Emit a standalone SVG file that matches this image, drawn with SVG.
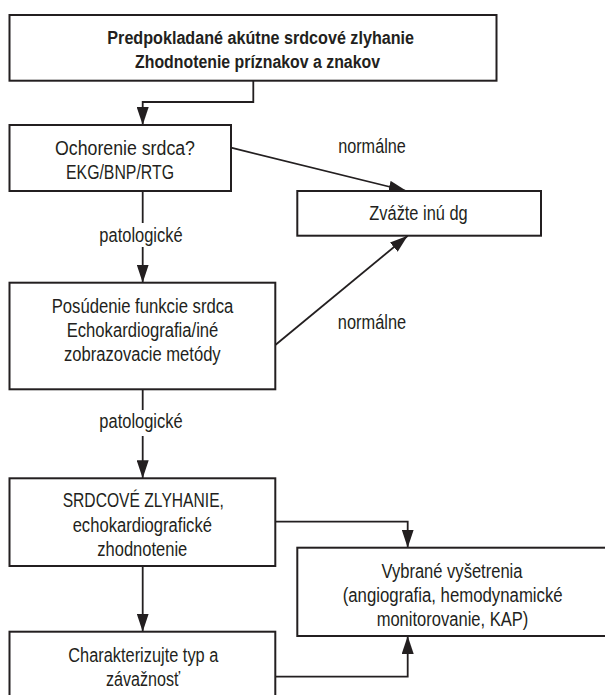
<svg xmlns="http://www.w3.org/2000/svg" width="605" height="695" viewBox="0 0 605 695">
<style>
.box{fill:#fff;stroke:#231f20;stroke-width:2}
.t{font-family:"Liberation Sans Narrow","Arial Narrow","Liberation Sans",Arial,sans-serif;font-size:20px;fill:#231f20;text-anchor:middle}
.b{font-weight:bold;font-size:18px}
.c{fill:none;stroke:#231f20;stroke-width:1.8}
</style>
<defs>
<marker id="ah" markerUnits="userSpaceOnUse" markerWidth="18" markerHeight="12" refX="18" refY="6" orient="auto">
<path d="M0,0 L18,6 L0,12 z" fill="#231f20"/>
</marker>
</defs>
<rect width="605" height="695" fill="#fff"/>
<g id="connectors">
<polyline class="c" points="253.3,80.7 253.3,102 142.7,102 142.7,125" marker-end="url(#ah)"/>
<line class="c" x1="231" y1="147.7" x2="406.7" y2="191" marker-end="url(#ah)"/>
<line class="c" x1="142.7" y1="191" x2="142.7" y2="223"/>
<line class="c" x1="142.7" y1="247" x2="142.7" y2="282.7" marker-end="url(#ah)"/>
<line class="c" x1="275.3" y1="345" x2="407.7" y2="235.7" marker-end="url(#ah)"/>
<line class="c" x1="142.7" y1="389.3" x2="142.7" y2="410"/>
<line class="c" x1="142.7" y1="436" x2="142.7" y2="478.3" marker-end="url(#ah)"/>
<polyline class="c" points="275.3,521.7 407.7,521.7 407.7,547.7" marker-end="url(#ah)"/>
<line class="c" x1="142.7" y1="566" x2="142.7" y2="631.7" marker-end="url(#ah)"/>
<polyline class="c" points="275.3,676.7 407.7,676.7 407.7,636" marker-end="url(#ah)"/>
<text class="t" x="372" y="153.3" textLength="67.7" lengthAdjust="spacingAndGlyphs">normálne</text>
<text class="t" x="141" y="241.7" textLength="83.3" lengthAdjust="spacingAndGlyphs">patologické</text>
<text class="t" x="372" y="329.3" textLength="68.3" lengthAdjust="spacingAndGlyphs">normálne</text>
<text class="t" x="141" y="428.3" textLength="83.3" lengthAdjust="spacingAndGlyphs">patologické</text>
</g>
<g id="n1">
<rect class="box" x="9.5" y="15" width="487" height="65.7"/>
<text class="t b" x="260.7" y="43.5" textLength="306.7" lengthAdjust="spacingAndGlyphs">Predpokladané akútne srdcové zlyhanie</text>
<text class="t b" x="257.5" y="67.7" textLength="245" lengthAdjust="spacingAndGlyphs">Zhodnotenie príznakov a znakov</text>
</g>
<g id="n2">
<rect class="box" x="9.5" y="125" width="221.5" height="66"/>
<text class="t" x="125" y="155" textLength="140" lengthAdjust="spacingAndGlyphs">Ochorenie srdca?</text>
<text class="t" x="120" y="179.3" textLength="108" lengthAdjust="spacingAndGlyphs">EKG/BNP/RTG</text>
</g>
<g id="n3">
<rect class="box" x="297.3" y="191" width="243.7" height="44.7"/>
<text class="t" x="418.5" y="220" textLength="98.3" lengthAdjust="spacingAndGlyphs">Zvážte inú dg</text>
</g>
<g id="n4">
<rect class="box" x="9.5" y="282.7" width="265.8" height="106.6"/>
<text class="t" x="142.5" y="313.3" textLength="181.7" lengthAdjust="spacingAndGlyphs">Posúdenie funkcie srdca</text>
<text class="t" x="142.5" y="337.3" textLength="151.7" lengthAdjust="spacingAndGlyphs">Echokardiografia/iné</text>
<text class="t" x="142.3" y="361" textLength="156.7" lengthAdjust="spacingAndGlyphs">zobrazovacie metódy</text>
</g>
<g id="n5">
<rect class="box" x="9.5" y="478.3" width="265.8" height="87.7"/>
<text class="t" x="143.3" y="506.7" textLength="161.3" lengthAdjust="spacingAndGlyphs">SRDCOVÉ ZLYHANIE,</text>
<text class="t" x="142.3" y="531.5" textLength="139.3" lengthAdjust="spacingAndGlyphs">echokardiografické</text>
<text class="t" x="142.3" y="556" textLength="90" lengthAdjust="spacingAndGlyphs">zhodnotenie</text>
</g>
<g id="n6">
<rect class="box" x="297.3" y="547.7" width="320" height="88.3"/>
<text class="t" x="452" y="578.3" textLength="141" lengthAdjust="spacingAndGlyphs">Vybrané vyšetrenia</text>
<text class="t" x="452.7" y="602" textLength="220" lengthAdjust="spacingAndGlyphs">(angiografia, hemodynamické</text>
<text class="t" x="452.5" y="626" textLength="151.7" lengthAdjust="spacingAndGlyphs">monitorovanie, KAP)</text>
</g>
<g id="n7">
<rect class="box" x="9.5" y="631.7" width="265.8" height="80"/>
<text class="t" x="143.3" y="661.7" textLength="150" lengthAdjust="spacingAndGlyphs">Charakterizujte typ a</text>
<text class="t" x="143" y="686" textLength="74" lengthAdjust="spacingAndGlyphs">závažnosť</text>
</g>
</svg>
